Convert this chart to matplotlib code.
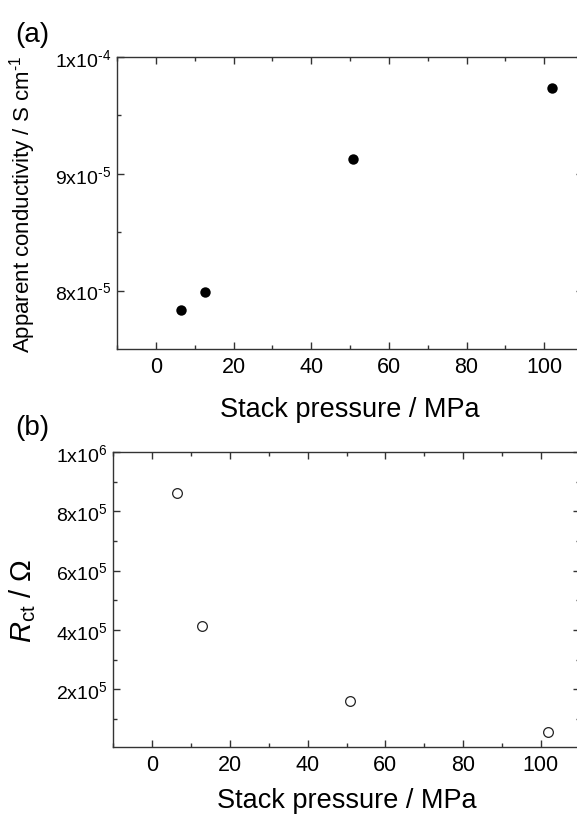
import numpy as np
import matplotlib
matplotlib.use("Agg")
import matplotlib.pyplot as plt
from matplotlib.ticker import FixedLocator, MultipleLocator

# data
pressure = [6.4, 12.7, 50.9, 101.9]          # MPa
conductivity = [7.83e-5, 7.985e-5, 9.13e-5, 9.735e-5]   # S cm-1
r_ct = [8.61e5, 4.13e5, 1.585e5, 0.57e5]     # Ohm

cond_ticks = [8e-5, 9e-5, 1e-4]
cond_labels = ["8x10$^{\\text{-}5}$", "9x10$^{\\text{-}5}$", "1x10$^{\\text{-}4}$"]
rct_ticks = [2e5, 4e5, 6e5, 8e5, 1e6]
rct_labels = ["2x10$^{5}$", "4x10$^{5}$", "6x10$^{5}$", "8x10$^{5}$", "1x10$^{6}$"]
x_ticks = [0, 20, 40, 60, 80, 100]

plt.rcParams["font.family"] = ["Liberation Sans", "DejaVu Sans"]
plt.rcParams["mathtext.fontset"] = "custom"
plt.rcParams["mathtext.rm"] = "Liberation Sans"
plt.rcParams["mathtext.it"] = "Liberation Sans:italic"
plt.rcParams["mathtext.default"] = "regular"


def style_axis(ax):
    ax.tick_params(which="both", direction="in", top=True, right=True,
                   color="#333333")
    ax.tick_params(axis="x", labelsize=15.5, pad=5)
    ax.tick_params(axis="y", labelsize=14, pad=4)
    ax.tick_params(which="major", length=5, width=1)
    ax.tick_params(which="minor", length=3, width=1)
    for s in ax.spines.values():
        s.set_color("#333333")
        s.set_linewidth(1.0)
    ax.set_xlim(-10, 110)
    ax.xaxis.set_major_locator(FixedLocator(x_ticks))
    ax.xaxis.set_minor_locator(MultipleLocator(10))
    ax.set_xlabel("Stack pressure / MPa", fontsize=19.5)


fig = plt.figure(figsize=(5.77, 8.2), dpi=100)

# panel (a)
ax1 = fig.add_axes([117 / 577, 1 - 350 / 820, 466 / 577, 292 / 820])
ax1.plot(pressure, conductivity, "o", color="black", markersize=7.5,
         markeredgewidth=0)
style_axis(ax1)
ax1.set_ylim(7.5e-5, 1e-4)
ax1.set_yticks(cond_ticks)
ax1.set_yticklabels(cond_labels)
ax1.yaxis.set_minor_locator(FixedLocator([8.5e-5, 9.5e-5]))
ax1.set_ylabel("Apparent conductivity / S cm$^{\\text{-}1}$", fontsize=16)
ax1.yaxis.set_label_coords(-0.170, 0.5)
ax1.xaxis.set_label_coords(0.5, -0.160)
fig.text(32 / 577, 1 - 35 / 820, "(a)", fontsize=20, ha="center", va="center")

# panel (b)
ax2 = fig.add_axes([113.3 / 577, 1 - 748 / 820, 466.4 / 577, 295 / 820])
ax2.plot(pressure, r_ct, "o", markerfacecolor="white", markeredgecolor="#222222",
         markersize=7, markeredgewidth=0.9)
style_axis(ax2)
ax2.set_ylim(5e3, 1e6)
ax2.set_yticks(rct_ticks)
ax2.set_yticklabels(rct_labels)
ax2.yaxis.set_minor_locator(FixedLocator([1e5, 3e5, 5e5, 7e5, 9e5]))
ax2.set_ylabel("$\\mathit{R}_{\\mathrm{ct}}$ / $\\Omega$", fontsize=21)
ax2.yaxis.set_label_coords(-0.161, 0.5)
ax2.xaxis.set_label_coords(0.5, -0.136)
fig.text(32 / 577, 1 - 428 / 820, "(b)", fontsize=20, ha="center", va="center")

fig.savefig("out.png", dpi=100)
